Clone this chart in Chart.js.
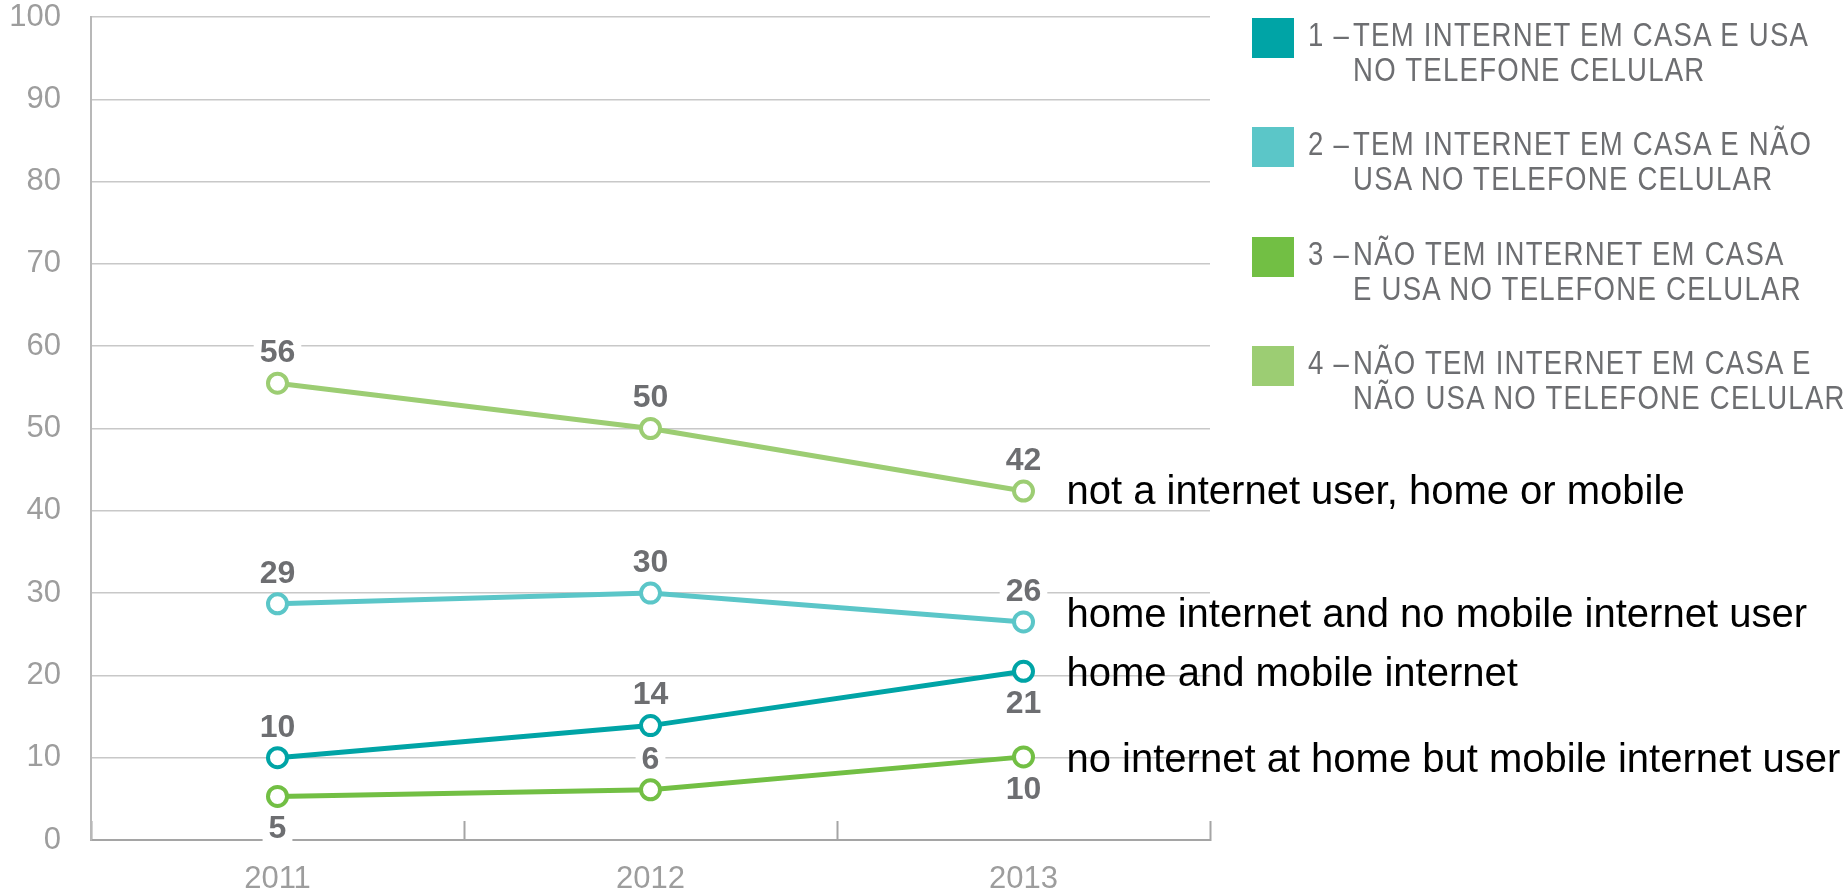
<!DOCTYPE html>
<html>
<head>
<meta charset="utf-8">
<script src="https://cdn.jsdelivr.net/npm/chart.js@4.4.1/dist/chart.umd.min.js"></script>
<style>
    body { margin: 0; background: #fff; }
    #wrap { position: relative; width: 1848px; height: 894px; }
    #legend {
        position: absolute; left: 1252px; top: 0;
        font-family: "Liberation Sans", Arial, sans-serif;
        font-size: 33px; letter-spacing: 1.5px; color: #6d6e71;
    }
    .item { position: absolute; left: 0; width: 596px; height: 80px; }
    .swatch { position: absolute; left: 0; top: 1px; width: 42px; height: 40px; }
    .num, .txt {
        position: absolute; line-height: 35px; white-space: nowrap;
        transform: scaleX(0.835); transform-origin: 0 0;
    }
    .num { left: 56px; }
    .txt { left: 101px; }
</style>
</head>
<body>
<div id="wrap">
    <canvas id="chart"></canvas>
    <div id="legend"></div>
</div>
<script>
const years = ['2011', '2012', '2013'];

// plotted values and the numbers printed next to them
const homeAndMobile = [10, 13.9, 20.5];
const homeNoMobile = [28.7, 30, 26.5];
const mobileOnly = [5.3, 6.1, 10.1];
const noInternet = [55.5, 50, 42.4];

const homeAndMobileLabels = [10, 14, 21];
const homeNoMobileLabels = [29, 30, 26];
const mobileOnlyLabels = [5, 6, 10];
const noInternetLabels = [56, 50, 42];

const seriesColors = ['#00a4a6', '#5bc6c8', '#72bf44', '#9ccd73'];

const endNames = [
    'home and mobile internet',
    'home internet and no mobile internet user',
    'no internet at home but mobile internet user',
    'not a internet user, home or mobile'
];

const legendNumbers = ['1 –', '2 –', '3 –', '4 –'];
const legendLines = [
    ['TEM INTERNET EM CASA E USA', 'NO TELEFONE CELULAR'],
    ['TEM INTERNET EM CASA E NÃO', 'USA NO TELEFONE CELULAR'],
    ['NÃO TEM INTERNET EM CASA', 'E USA NO TELEFONE CELULAR'],
    ['NÃO TEM INTERNET EM CASA E', 'NÃO USA NO TELEFONE CELULAR']
];

const fontFamily = '"Liberation Sans", Arial, sans-serif';

function buildLegend() {
    const legend = document.getElementById('legend');
    legendLines.forEach((lines, i) => {
        const item = document.createElement('div');
        item.className = 'item';
        item.style.top = (17 + i * 109.3) + 'px';
        item.innerHTML = `<div class="swatch" style="background:${seriesColors[i]}"></div>` +
            `<div class="num">${legendNumbers[i]}</div>` +
            `<div class="txt">${lines.join('<br>')}</div>`;
        legend.appendChild(item);
    });
}

// numbers above / below each point, on a white box
const valueLabels = {
    id: 'valueLabels',
    afterDatasetsDraw(chart) {
        const ctx = chart.ctx;
        ctx.save();
        ctx.font = `bold 32px ${fontFamily}`;
        ctx.textAlign = 'center';
        ctx.textBaseline = 'middle';
        chart.data.datasets.forEach((ds, i) => {
            chart.getDatasetMeta(i).data.forEach((pt, j) => {
                const y = pt.y + (ds.labelBelow[j] ? 32 : -31);
                const text = String(ds.valueLabels[j]);
                const w = ctx.measureText(text).width + 12;
                ctx.fillStyle = '#fff';
                ctx.fillRect(pt.x - w / 2, y - 15, w, 30);
                ctx.fillStyle = '#6d6e71';
                ctx.fillText(text, pt.x, y + 1);
            });
        });
        ctx.restore();
    }
};

// english series names next to the last point
const seriesNames = {
    id: 'seriesNames',
    afterDraw(chart) {
        const ctx = chart.ctx;
        ctx.save();
        ctx.font = `40px ${fontFamily}`;
        ctx.textAlign = 'left';
        ctx.textBaseline = 'middle';
        ctx.fillStyle = '#000';
        chart.data.datasets.forEach((ds, i) => {
            const pts = chart.getDatasetMeta(i).data;
            const last = pts[pts.length - 1];
            ctx.fillText(ds.endName, last.x + 43, last.y + ds.endDy);
        });
        ctx.restore();
    }
};

function makeDataset(label, data, labels, below, color, endName, endDy) {
    return {
        label: label,
        data: data,
        valueLabels: labels,
        labelBelow: below,
        endName: endName,
        endDy: endDy,
        borderColor: color,
        backgroundColor: '#fff',
        borderWidth: 5,
        pointRadius: 9.5,
        pointBorderWidth: 4,
        pointBackgroundColor: '#fff',
        pointBorderColor: color,
        tension: 0
    };
}

window.onload = () => {
    buildLegend();

    const tickFont = { family: fontFamily, size: 31 };

    new Chart(document.getElementById('chart').getContext('2d'), {
        type: 'line',
        data: {
            labels: years,
            datasets: [
                makeDataset('4', noInternet, noInternetLabels, [false, false, false], seriesColors[3], endNames[3], 2),
                makeDataset('2', homeNoMobile, homeNoMobileLabels, [false, false, false], seriesColors[1], endNames[1], -6),
                makeDataset('3', mobileOnly, mobileOnlyLabels, [true, false, true], seriesColors[2], endNames[2], 4),
                makeDataset('1', homeAndMobile, homeAndMobileLabels, [false, false, true], seriesColors[0], endNames[0], 4)
            ]
        },
        options: {
            responsive: true,
            maintainAspectRatio: false,
            animation: false,
            layout: { padding: { left: 0, right: 638, top: 17, bottom: 0 } },
            plugins: {
                legend: { display: false },
                tooltip: { enabled: false }
            },
            scales: {
                x: {
                    offset: true,
                    grid: {
                        offset: true,
                        drawOnChartArea: false,
                        tickLength: -19,
                        tickColor: '#a5a5a5',
                        tickWidth: 2
                    },
                    border: { color: '#a5a5a5', width: 2 },
                    ticks: { color: '#9d9d9d', font: tickFont, padding: 40 },
                    afterFit(scale) { scale.height = 54; }
                },
                y: {
                    min: 0,
                    max: 100,
                    ticks: { stepSize: 10, color: '#9d9d9d', font: tickFont, padding: 30 },
                    grid: { color: '#c8c8c8', lineWidth: 1.5, drawTicks: false },
                    border: { color: '#b8b8b8', width: 2 },
                    afterFit(scale) {
                        scale.width = 91;
                        scale.paddingTop = 0;
                        scale.paddingBottom = 0;
                    }
                }
            }
        },
        plugins: [valueLabels, seriesNames]
    });
};
</script>
</body>
</html>
